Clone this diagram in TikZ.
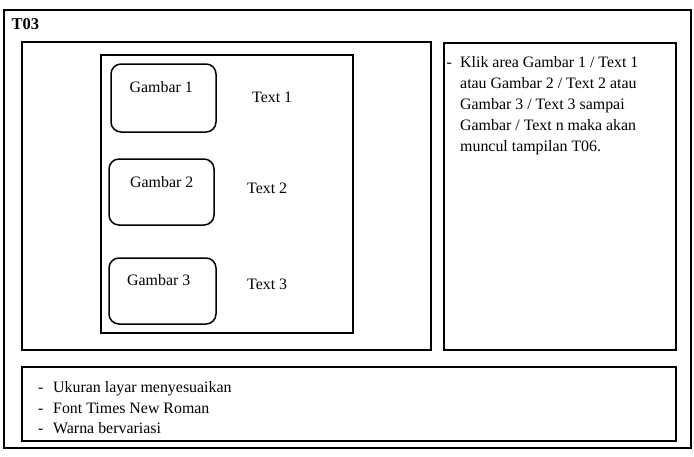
\documentclass[tikz,border=0pt]{standalone}
\usepackage{fontspec}
\setmainfont{Liberation Serif}
\begin{document}
\begin{tikzpicture}[x=1pt,y=-1pt,
  frame/.style={draw=black, line width=1.6pt, anchor=north west, inner sep=0pt, outer sep=0pt},
  picbox/.style={frame, line width=1.5pt, rounded corners=10pt},
  txt/.style={font=\fontsize{15.9}{18}\selectfont, inner sep=0pt, anchor=base west},
  ttl/.style={font=\fontsize{16.5}{19}\selectfont\bfseries, inner sep=0pt, anchor=base west}]
\useasboundingbox (0,0) rectangle (694,456);
% frames
\node[frame, minimum width=687pt, minimum height=438pt] (outer) at (4,10) {};
\node[frame, minimum width=409pt, minimum height=308pt] (left) at (22,42) {};
\node[frame, minimum width=232pt, minimum height=307pt] (right) at (444,43) {};
\node[frame, minimum width=654pt, minimum height=74pt] (bottom) at (22,367) {};
\node[frame, minimum width=252pt, minimum height=278pt] (inner) at (101,55) {};
% picture boxes
\node[picbox, minimum width=105pt, minimum height=68pt] (g1) at (111,64) {};
\node[picbox, minimum width=105pt, minimum height=66pt] (g2) at (109,159) {};
\node[picbox, minimum width=107pt, minimum height=66pt] (g3) at (109,258) {};
% title
\node[ttl] (title) at (11.5,29.5) {T03};
% labels
\node[txt] (lg1) at (129.5,92) {Gambar 1};
\node[txt] (lg2) at (130,187) {Gambar 2};
\node[txt] (lg3) at (127,285.5) {Gambar 3};
\node[txt] (lt1) at (252,102.3) {Text 1};
\node[txt] (lt2) at (247,193.3) {Text 2};
\node[txt] (lt3) at (247,289) {Text 3};
% right panel text
\node[txt] (rd) at (446.5,67.5) {-};
\node[txt] (r1) at (460,67.5) {Klik area Gambar 1 / Text 1};
\node[txt] (r2) at (460,88.5) {atau Gambar 2 / Text 2 atau};
\node[txt] (r3) at (460,109.5) {Gambar 3 / Text 3 sampai};
\node[txt] (r4) at (460,130.5) {Gambar / Text n maka akan};
\node[txt] (r5) at (460,151.5) {muncul tampilan T06.};
% bottom text
\node[txt] (bd1) at (38,392) {-};
\node[txt] (b1) at (53,392) {Ukuran layar menyesuaikan};
\node[txt] (bd2) at (38,413) {-};
\node[txt] (b2) at (53,413) {Font Times New Roman};
\node[txt] (bd3) at (38,433.5) {-};
\node[txt] (b3) at (53,433.5) {Warna bervariasi};
\end{tikzpicture}
\end{document}
